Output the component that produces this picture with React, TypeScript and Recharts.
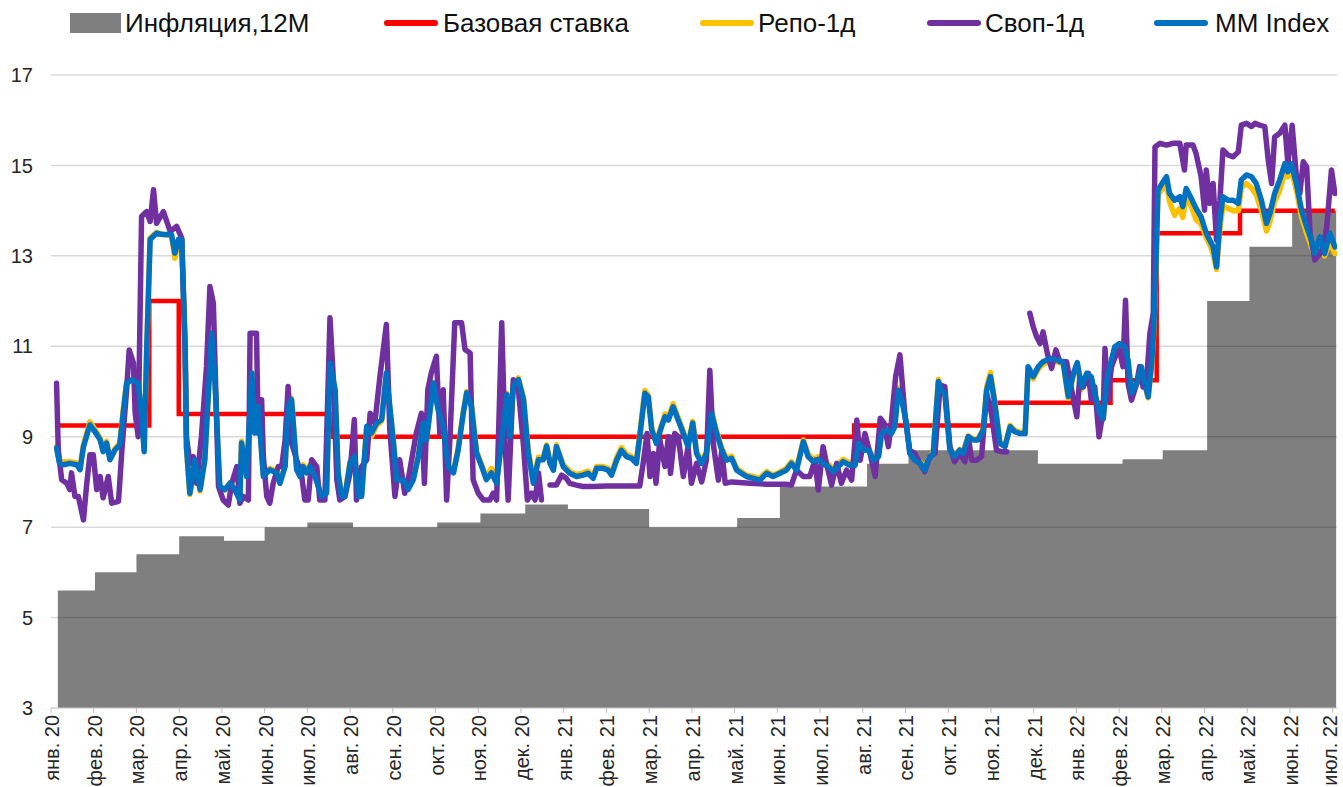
import React from "react";
import { ComposedChart, Line, Area, XAxis, YAxis, CartesianGrid } from "recharts";

// x = months since 1 Jan 2020 (0 = янв. 20, 30 = июл. 22)
const monthLabels = [
  "янв. 20", "фев. 20", "мар. 20", "апр. 20", "май. 20", "июн. 20", "июл. 20", "авг. 20",
  "сен. 20", "окт. 20", "ноя. 20", "дек. 20", "янв. 21", "фев. 21", "мар. 21", "апр. 21",
  "май. 21", "июн. 21", "июл. 21", "авг. 21", "сен. 21", "окт. 21", "ноя. 21", "дек. 21",
  "янв. 22", "фев. 22", "мар. 22", "апр. 22", "май. 22", "июн. 22", "июл. 22",
];
const monthTicks = monthLabels.map((_, i) => i);
const yTicks = [3, 5, 7, 9, 11, 13, 15, 17];

// Инфляция, 12M (step starts)
const inflX = [0.16, 1.03, 2.0, 3.0, 4.05, 5.0, 6.0, 7.07, 9.04, 10.05, 11.1, 12.1, 14.0, 16.06, 17.06, 19.1, 20.07, 23.1, 25.08, 26.02, 27.06, 28.05, 29.05, 30.08];
const inflVal = [5.6, 6.0, 6.4, 6.8, 6.7, 7.0, 7.1, 7.0, 7.1, 7.3, 7.5, 7.4, 7.0, 7.2, 7.9, 8.4, 8.7, 8.4, 8.5, 8.7, 12.0, 13.2, 14.0, 14.0];

// Базовая ставка
const rateX = [0.13, 2.3, 2.99, 6.6, 18.8, 22.03, 24.8, 25.88, 27.83, 30.05];
const rateVal = [9.25, 12, 9.5, 9, 9.25, 9.75, 10.25, 13.5, 14, 14];

// MM Index and Репо-1д share dates
const mmX = [
  0.13, 0.2, 0.29, 0.44, 0.6, 0.68, 0.76, 0.91, 1.03, 1.15,
  1.22, 1.3, 1.38, 1.5, 1.61, 1.69, 1.77, 1.89, 2.04, 2.12,
  2.18, 2.24, 2.32, 2.47, 2.63, 2.82, 2.9, 2.98, 3.06, 3.14,
  3.17, 3.25, 3.37, 3.49, 3.6, 3.76, 3.84, 3.95, 4.07, 4.19,
  4.3, 4.42, 4.46, 4.58, 4.7, 4.77, 4.85, 4.97, 5.12, 5.28,
  5.36, 5.48, 5.55, 5.63, 5.75, 5.83, 5.9, 5.98, 6.06, 6.18,
  6.33, 6.45, 6.53, 6.65, 6.72, 6.8, 6.88, 7.0, 7.11, 7.19,
  7.27, 7.39, 7.5, 7.62, 7.74, 7.85, 7.93, 8.01, 8.09, 8.24,
  8.36, 8.48, 8.6, 8.71, 8.79, 8.95, 9.06, 9.18, 9.3, 9.42,
  9.53, 9.65, 9.73, 9.84, 9.96, 10.08, 10.19, 10.31, 10.43, 10.55,
  10.67, 10.74, 10.82, 10.94, 11.06, 11.17, 11.29, 11.41, 11.52, 11.6,
  11.68, 11.76, 11.83, 11.91, 11.99, 12.14, 12.3, 12.45, 12.57, 12.69,
  12.77, 12.92, 13.04, 13.12, 13.24, 13.35, 13.47, 13.59, 13.7, 13.78,
  13.9, 13.98, 14.06, 14.17, 14.29, 14.37, 14.45, 14.56, 14.68, 14.8,
  14.91, 15.02, 15.11, 15.23, 15.34, 15.46, 15.58, 15.7, 15.81, 15.93,
  16.05, 16.16, 16.28, 16.44, 16.59, 16.75, 16.9, 17.06, 17.21, 17.33,
  17.45, 17.61, 17.72, 17.84, 17.96, 18.07, 18.19, 18.31, 18.43, 18.54,
  18.7, 18.82, 18.9, 19.02, 19.14, 19.25, 19.37, 19.44, 19.56, 19.67,
  19.75, 19.83, 19.93, 20.02, 20.1, 20.22, 20.34, 20.45, 20.53, 20.65,
  20.77, 20.84, 20.92, 21.04, 21.15, 21.27, 21.35, 21.47, 21.58, 21.7,
  21.82, 21.9, 21.99, 22.09, 22.21, 22.33, 22.45, 22.56, 22.68, 22.8,
  22.87, 22.99, 23.11, 23.22, 23.38, 23.53, 23.69, 23.81, 23.93, 24.02,
  24.12, 24.24, 24.35, 24.43, 24.55, 24.63, 24.7, 24.78, 24.9, 25.01,
  25.13, 25.21, 25.29, 25.41, 25.52, 25.6, 25.68, 25.76, 25.81, 25.86,
  25.91, 26.03, 26.11, 26.18, 26.3, 26.42, 26.49, 26.57, 26.69, 26.8,
  26.92, 27.04, 27.12, 27.2, 27.28, 27.36, 27.43, 27.55, 27.67, 27.79,
  27.86, 27.98, 28.1, 28.21, 28.33, 28.45, 28.53, 28.64, 28.76, 28.88,
  28.95, 29.03, 29.15, 29.27, 29.39, 29.5, 29.58, 29.7, 29.81, 29.93,
  30.05,
];
const mmIndex = [
  8.75, 8.41, 8.38, 8.41, 8.38, 8.27, 8.78, 9.26, 9.11, 8.93,
  8.67, 8.86, 8.49, 8.71, 8.82, 9.52, 10.18, 10.26, 10.18, 9.52,
  8.67, 10.92, 13.36, 13.5, 13.47, 13.47, 13.06, 13.36, 13.36, 10.92,
  8.78, 7.75, 8.49, 7.83, 8.49, 11.29, 10.18, 7.9, 7.83, 7.97,
  7.83, 7.6, 8.86, 8.12, 10.41, 9.08, 9.67, 8.12, 8.27, 8.2,
  7.97, 8.34, 9.67, 9.82, 8.27, 8.12, 8.34, 8.2, 8.34, 8.12,
  7.68, 7.75, 10.63, 10.04, 8.2, 7.68, 7.68, 8.42, 8.57, 7.68,
  7.68, 9.23, 9.08, 9.3, 9.38, 10.41, 9.67, 8.93, 8.05, 8.05,
  7.83, 8.05, 8.57, 9.3, 8.93, 10.19, 9.6, 9.23, 8.34, 8.2,
  8.71, 9.52, 9.97, 9.67, 8.64, 8.34, 8.05, 8.2, 7.97, 8.93,
  9.93, 9.0, 10.12, 10.26, 9.82, 8.64, 7.97, 8.49, 8.49, 8.79,
  8.41, 8.26, 8.78, 8.56, 8.34, 8.19, 8.12, 8.15, 8.19, 8.08,
  8.3, 8.3, 8.26, 8.15, 8.48, 8.7, 8.56, 8.52, 8.41, 9.0,
  9.96, 9.88, 9.15, 8.85, 9.22, 9.44, 9.37, 9.66, 9.37, 9.07,
  8.78, 9.3, 8.63, 8.41, 8.63, 9.52, 9.07, 8.7, 8.48, 8.52,
  8.26, 8.19, 8.12, 8.08, 8.04, 8.19, 8.12, 8.19, 8.26, 8.41,
  8.26, 8.89, 8.56, 8.45, 8.5, 8.41, 8.34, 8.23, 8.34, 8.45,
  8.37, 8.37, 8.85, 8.7, 8.7, 8.48, 8.56, 9.07, 9.15, 9.07,
  9.22, 10.03, 9.74, 9.3, 8.63, 8.48, 8.41, 8.26, 8.48, 8.63,
  10.22, 10.03, 9.96, 8.7, 8.56, 8.7, 8.63, 9.0, 8.93, 8.93,
  9.15, 10.03, 10.33, 9.74, 8.85, 8.78, 9.22, 9.11, 9.07, 9.07,
  10.55, 10.33, 10.55, 10.66, 10.73, 10.7, 10.66, 9.89, 10.4, 10.64,
  10.1, 10.4, 10.32, 9.96, 9.51, 9.4, 10.18, 10.55, 10.99, 11.06,
  10.99, 10.69, 9.96, 10.18, 10.55, 10.18, 9.88, 10.62, 11.36, 12.76,
  14.45, 14.64, 14.75, 14.38, 14.23, 14.31, 14.09, 14.49, 14.27, 14.05,
  13.86, 13.5, 13.35, 13.2, 12.76, 13.79, 14.31, 14.23, 14.23, 14.16,
  14.68, 14.79, 14.75, 14.6, 14.23, 13.72, 13.94, 14.38, 14.68, 15.04,
  14.86, 15.04, 14.6, 14.01, 13.64, 13.35, 13.05, 13.42, 13.05, 13.5,
  13.2,
];
const repo1d = [
  8.78, 8.45, 8.44, 8.45, 8.42, 8.3, 8.82, 9.33, 9.16, 8.97,
  8.72, 8.9, 8.52, 8.74, 8.85, 9.6, 10.2, 10.27, 10.2, 9.55,
  8.7, 10.9, 13.4, 13.52, 13.47, 13.45, 12.95, 13.3, 13.35, 10.9,
  8.75, 7.72, 8.45, 7.8, 8.5, 11.25, 10.15, 7.88, 7.82, 7.98,
  7.85, 7.62, 8.9, 8.15, 10.38, 9.1, 9.7, 8.16, 8.3, 8.24,
  8.0, 8.37, 9.7, 9.85, 8.3, 8.15, 8.38, 8.25, 8.38, 8.15,
  7.7, 7.78, 10.6, 10.0, 8.22, 7.7, 7.72, 8.45, 8.6, 7.72,
  7.72, 9.2, 9.0, 9.25, 9.35, 10.38, 9.65, 8.95, 8.08, 8.08,
  7.86, 8.08, 8.6, 9.32, 8.95, 10.2, 9.62, 9.25, 8.38, 8.24,
  8.74, 9.55, 10.0, 9.72, 8.68, 8.38, 8.1, 8.3, 8.02, 8.95,
  9.96, 9.05, 10.15, 10.3, 9.86, 8.7, 8.05, 8.55, 8.52, 8.82,
  8.45, 8.3, 8.82, 8.6, 8.38, 8.24, 8.16, 8.2, 8.24, 8.12,
  8.34, 8.34, 8.3, 8.2, 8.54, 8.76, 8.62, 8.56, 8.45, 9.05,
  10.02, 9.92, 9.2, 8.9, 9.26, 9.5, 9.42, 9.73, 9.42, 9.12,
  8.82, 9.34, 8.68, 8.45, 8.67, 9.57, 9.12, 8.75, 8.53, 8.57,
  8.3, 8.23, 8.15, 8.12, 8.08, 8.23, 8.15, 8.22, 8.3, 8.45,
  8.3, 8.93, 8.62, 8.5, 8.56, 8.46, 8.4, 8.28, 8.4, 8.5,
  8.42, 8.42, 8.88, 8.74, 8.74, 8.52, 8.6, 9.1, 9.18, 9.1,
  9.25, 10.08, 9.78, 9.32, 8.66, 8.5, 8.44, 8.3, 8.5, 8.66,
  10.27, 10.06, 9.98, 8.72, 8.58, 8.72, 8.66, 9.02, 8.95, 8.95,
  9.18, 10.1, 10.42, 9.8, 8.88, 8.8, 9.25, 9.14, 9.1, 9.1,
  10.5, 10.28, 10.5, 10.6, 10.68, 10.66, 10.62, 9.85, 10.35, 10.6,
  10.05, 10.35, 10.28, 9.92, 9.48, 9.38, 10.12, 10.5, 10.93, 11.02,
  10.95, 10.65, 9.93, 10.14, 10.5, 10.15, 9.86, 10.58, 11.3, 12.7,
  14.35, 14.5, 14.6, 14.2, 13.9, 14.05, 13.85, 14.3, 14.1, 13.8,
  13.7, 13.4, 13.25, 13.05, 12.7, 13.6, 14.1, 14.05, 14.0, 14.0,
  14.5, 14.6, 14.5, 14.35, 14.0, 13.55, 13.75, 14.2, 14.45, 14.85,
  14.75, 14.9, 14.45, 13.85, 13.5, 13.2, 12.98, 13.3, 13.0, 13.3,
  13.05,
];

// Своп-1д (null = no quote)
const swapX = [
  0.13, 0.17, 0.25, 0.37, 0.44, 0.48, 0.56, 0.64, 0.76, 0.83,
  0.91, 0.99, 1.07, 1.15, 1.22, 1.34, 1.42, 1.58, 1.66, 1.77,
  1.83, 1.93, 1.97, 2.04, 2.12, 2.24, 2.32, 2.4, 2.47, 2.63,
  2.79, 2.94, 3.06, 3.14, 3.17, 3.25, 3.33, 3.41, 3.52, 3.64,
  3.72, 3.8, 3.92, 4.03, 4.15, 4.23, 4.35, 4.42, 4.5, 4.62,
  4.66, 4.81, 4.85, 4.93, 4.97, 5.05, 5.12, 5.2, 5.32, 5.4,
  5.48, 5.55, 5.63, 5.75, 5.87, 5.94, 6.02, 6.1, 6.22, 6.29,
  6.41, 6.53, 6.61, 6.69, 6.76, 6.88, 7.0, 7.1, 7.15, 7.27,
  7.39, 7.47, 7.58, 7.7, 7.85, 7.93, 8.05, 8.16, 8.28, 8.36,
  8.55, 8.67, 8.74, 8.82, 8.9, 9.02, 9.1, 9.18, 9.26, 9.34,
  9.45, 9.61, 9.69, 9.81, 9.88, 10.0, 10.12, 10.27, 10.35, 10.43,
  10.55, 10.63, 10.7, 10.82, 10.94, 11.06, 11.15, 11.25, 11.33, 11.41,
  11.48, 11.58, 11.68, 11.83, 11.95, 12.06, 12.14, 12.3, 12.45, 12.69,
  13.0, 13.32, 13.63, 13.78, 13.86, 13.95, 14.02, 14.1, 14.16, 14.25,
  14.37, 14.45, 14.5, 14.6, 14.68, 14.8, 14.91, 14.99, 15.11, 15.23,
  15.34, 15.42, 15.5, 15.62, 15.7, 15.78, 15.93, 16.36, 16.75, 17.21,
  17.33, 17.45, 17.61, 17.76, 17.88, 17.96, 18.07, 18.15, 18.27, 18.39,
  18.5, 18.62, 18.74, 18.86, 18.94, 19.05, 19.17, 19.29, 19.41, 19.5,
  19.6, 19.67, 19.77, 19.87, 19.99, 20.1, 20.22, 20.34, 20.45, 20.57,
  20.69, 20.81, 20.92, 21.04, 21.15, 21.27, 21.39, 21.47, 21.55, 21.66,
  21.78, 21.9, 22.01, 22.13, 22.25, 22.37, 22.6, 22.91, 22.99, 23.07,
  23.15, 23.22, 23.32, 23.42, 23.52, 23.61, 23.77, 23.89, 24.01, 24.08,
  24.16, 24.28, 24.35, 24.43, 24.53, 24.63, 24.67, 24.74, 24.82, 24.94,
  25.01, 25.09, 25.15, 25.21, 25.29, 25.41, 25.48, 25.56, 25.65, 25.72,
  25.8, 25.84, 25.96, 26.11, 26.26, 26.42, 26.53, 26.57, 26.73, 26.8,
  26.92, 27.0, 27.04, 27.12, 27.2, 27.28, 27.36, 27.43, 27.55, 27.67,
  27.79, 27.86, 27.98, 28.1, 28.18, 28.29, 28.41, 28.49, 28.57, 28.64,
  28.76, 28.88, 28.95, 29.05, 29.15, 29.23, 29.31, 29.39, 29.47, 29.58,
  29.7, 29.78, 29.86, 29.97, 30.05,
];
const swap1d = [
  10.18, 8.71, 8.05, 7.97, 7.83, 8.2, 7.68, 7.68, 7.16, 7.9,
  8.6, 8.6, 7.83, 8.12, 7.65, 8.12, 7.53, 7.57, 8.71, 10.04,
  10.92, 10.63, 9.52, 9.0, 13.87, 13.98, 13.76, 14.46, 13.72, 13.98,
  13.54, 13.65, 13.39, 10.92, 9.0, 8.41, 8.56, 7.97, 9.0, 10.55,
  12.32, 11.95, 7.9, 7.6, 7.49, 7.97, 8.34, 7.53, 7.68, 7.6,
  11.29, 11.29, 9.08, 9.82, 8.56, 7.68, 7.53, 7.97, 8.34, 8.34,
  8.93, 10.11, 8.86, 8.49, 8.12, 7.6, 7.6, 8.49, 8.34, 7.6,
  7.6, 11.63, 10.26, 8.05, 7.6, 7.68, 8.2, 9.38, 7.6, 8.34,
  8.49, 9.52, 9.3, 10.34, 11.48, 9.16, 7.68, 8.49, 7.75, 8.05,
  9.08, 9.52, 7.97, 10.04, 10.41, 10.78, 9.08, 10.04, 7.6, 9.0,
  11.52, 11.52, 10.93, 10.85, 8.05, 7.75, 7.6, 7.6, 7.75, 7.6,
  11.52, 8.79, 7.6, 10.26, 10.04, 8.79, 7.6, 7.75, 7.6, 8.2,
  7.6, null, 7.93, 7.93, 8.15, 8.08, 7.97, 7.93, 7.9, 7.9,
  7.91, 7.91, 7.91, 7.91, 8.41, 9.07, 8.12, 8.63, 7.97, 8.93,
  8.34, 9.0, 8.19, 9.07, 9.0, 8.12, 8.78, 7.97, 8.41, 8.0,
  8.48, 10.47, 8.85, 8.04, 8.7, 7.97, 8.0, 7.97, 7.95, 7.95,
  7.93, 8.26, 8.12, 8.12, 8.48, 7.82, 8.78, 8.41, 7.93, 8.41,
  7.97, 8.26, 8.04, 9.37, 8.48, 9.07, 8.63, 8.12, 9.41, 9.3,
  8.78, 9.33, 10.33, 10.81, 9.44, 8.7, 8.63, 8.41, 8.23, 8.56,
  8.63, 10.14, 10.11, 8.78, 8.45, 8.63, 8.45, 9.0, 8.48, 8.48,
  8.56, 9.96, 9.52, 8.7, 8.67, 8.67, null, 11.73, 11.43, 11.21,
  11.06, 11.32, 10.84, 10.51, 10.92, 10.66, 10.66, 10.03, 9.44, 10.32,
  10.1, 10.4, 9.81, 10.1, 9.0, 9.59, 10.95, 9.81, 10.55, 10.84,
  10.92, 10.55, 12.02, 10.18, 9.81, 10.18, 10.55, 10.1, 10.32, 11.28,
  11.73, 15.41, 15.49, 15.45, 15.49, 15.49, 14.9, 15.45, 15.45, 15.27,
  14.75, 14.01, 14.9, 14.16, 14.6, 13.35, 14.23, 15.34, 15.23, 15.19,
  15.3, 15.89, 15.93, 15.86, 15.93, 15.89, 15.86, 15.12, 14.6, 15.63,
  15.71, 15.89, 15.04, 15.89, 14.75, 14.38, 15.08, 14.97, 13.5, 12.91,
  13.05, 13.2, 13.64, 14.9, 14.38,
];

const toPoints = (xs: number[], vs: (number | null)[]) => xs.map((x, i) => ({ x, v: vs[i] }));

const inflData = toPoints(inflX, inflVal);
const rateData = toPoints(rateX, rateVal);
const mmData = toPoints(mmX, mmIndex);
const repoData = toPoints(mmX, repo1d);
const swapData = toPoints(swapX, swap1d);

const FONT = '"Liberation Sans", Arial, sans-serif';

const MonthTick = ({ x, y, payload }: any) => {
  // keep the last label inside the frame
  const tx = Math.min(x + 8, 1337);
  return (
    <text
      x={tx}
      y={y}
      transform={`rotate(-90, ${tx}, ${y})`}
      textAnchor="end"
      fontSize={20}
      fontFamily={FONT}
      fill="#262626"
    >
      {monthLabels[payload.value]}
    </text>
  );
};

const legendItems = [
  { name: "Инфляция,12M", color: "#7f7f7f", box: true, left: 70, text: 125 },
  { name: "Базовая ставка", color: "#ff0000", box: false, left: 384, text: 443 },
  { name: "Репо-1д", color: "#ffc000", box: false, left: 700, text: 758 },
  { name: "Своп-1д", color: "#7030a0", box: false, left: 927, text: 985 },
  { name: "MM Index", color: "#0070c0", box: false, left: 1154, text: 1215 },
];

const ChartLegend = () => (
  <div style={{ position: "absolute", left: 0, top: 0, width: 1343, height: 50 }}>
    {legendItems.map((it) => (
      <React.Fragment key={it.name}>
        <div
          style={{
            position: "absolute",
            left: it.left,
            top: it.box ? 13 : 20,
            width: it.box ? 51 : 54,
            height: it.box ? 20 : 6,
            background: it.color,
            borderRadius: it.box ? 0 : 3,
          }}
        />
        <div
          style={{
            position: "absolute",
            left: it.text,
            top: 7,
            fontSize: 26,
            lineHeight: "32px",
            fontFamily: FONT,
            color: "#111",
            whiteSpace: "nowrap",
          }}
        >
          {it.name}
        </div>
      </React.Fragment>
    ))}
  </div>
);

export default function App() {
  return (
    <div style={{ position: "relative", width: 1343, height: 787, background: "#fff" }}>
      <style>{"body{margin:0}"}</style>
      <ChartLegend />
      <ComposedChart width={1343} height={787} margin={{ top: 75, right: 6, bottom: 0, left: 0 }}>
        <CartesianGrid horizontal vertical={false} stroke="#d9d9d9" strokeWidth={1.5} />
        <XAxis
          type="number"
          dataKey="x"
          domain={[0, 30.1]}
          ticks={monthTicks}
          interval={0}
          allowDataOverflow
          height={79}
          tick={<MonthTick />}
          tickSize={5}
          tickMargin={2}
          tickLine={{ stroke: "#bfbfbf" }}
          axisLine={{ stroke: "#d9d9d9" }}
        />
        <YAxis
          type="number"
          domain={[3, 17]}
          ticks={yTicks}
          interval={0}
          width={51}
          axisLine={false}
          tickLine={false}
          tickSize={0}
          tickMargin={18}
          tick={{ fontSize: 20, fill: "#262626", fontFamily: FONT }}
        />
        <Area
          data={inflData}
          dataKey="v"
          type="stepAfter"
          fill="#000"
          fillOpacity={0.5}
          stroke="none"
          baseValue={3}
          isAnimationActive={false}
          dot={false}
          activeDot={false}
        />
        <Line data={rateData} dataKey="v" type="stepAfter" stroke="#ff0000" strokeWidth={4.5} dot={false} activeDot={false} isAnimationActive={false} />
        <Line data={repoData} dataKey="v" type="linear" stroke="#ffc000" strokeWidth={5.5} strokeLinejoin="round" strokeLinecap="round" dot={false} activeDot={false} isAnimationActive={false} />
        <Line data={swapData} dataKey="v" type="linear" stroke="#7030a0" strokeWidth={5.5} strokeLinejoin="round" strokeLinecap="round" dot={false} activeDot={false} isAnimationActive={false} />
        <Line data={mmData} dataKey="v" type="linear" stroke="#0070c0" strokeWidth={5.5} strokeLinejoin="round" strokeLinecap="round" dot={false} activeDot={false} isAnimationActive={false} />
      </ComposedChart>
    </div>
  );
}
